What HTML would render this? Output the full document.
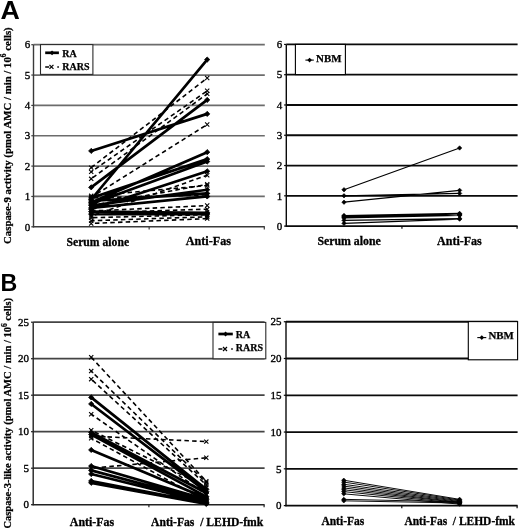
<!DOCTYPE html>
<html><head><meta charset="utf-8"><title>Caspase activity</title>
<style>
html,body{margin:0;padding:0;background:#fff;}
body{width:520px;height:529px;overflow:hidden;}
svg{display:block;filter:grayscale(1) blur(0.3px);}
.tk{font-family:"Liberation Serif",serif;font-size:11px;text-anchor:end;fill:#000;stroke:#000;stroke-width:0.35px;}
.xl{font-family:"Liberation Serif",serif;font-weight:bold;font-size:12px;fill:#000;stroke:#000;stroke-width:0.3px;}
.lg{font-family:"Liberation Serif",serif;font-weight:bold;fill:#000;stroke:#000;stroke-width:0.25px;}
.yl{font-family:"Liberation Serif",serif;font-weight:bold;fill:#000;stroke:#000;stroke-width:0.25px;}
.sup{font-size:7.5px;}
.pl{font-family:"Liberation Sans",sans-serif;font-weight:bold;font-size:25px;fill:#000;}
</style></head>
<body>
<svg width="520" height="529" viewBox="0 0 520 529">
<rect width="520" height="529" fill="#fff"/>
<line x1="33.5" y1="196.45" x2="264.8" y2="196.45" stroke="#6c6c6c" stroke-width="1.7"/>
<line x1="33.5" y1="166.1" x2="264.8" y2="166.1" stroke="#6c6c6c" stroke-width="1.7"/>
<line x1="33.5" y1="135.75" x2="264.8" y2="135.75" stroke="#6c6c6c" stroke-width="1.7"/>
<line x1="33.5" y1="105.4" x2="264.8" y2="105.4" stroke="#6c6c6c" stroke-width="1.7"/>
<line x1="33.5" y1="75.05" x2="264.8" y2="75.05" stroke="#6c6c6c" stroke-width="1.7"/>
<line x1="33.5" y1="44.7" x2="264.8" y2="44.7" stroke="#6c6c6c" stroke-width="1.7"/>
<line x1="33.5" y1="44.7" x2="33.5" y2="227.4" stroke="#3a3a3a" stroke-width="1.4"/>
<line x1="32.9" y1="226.8" x2="264.8" y2="226.8" stroke="#3a3a3a" stroke-width="1.6"/>
<line x1="31.3" y1="226.8" x2="33.5" y2="226.8" stroke="#3a3a3a" stroke-width="1.2"/>
<text x="30.2" y="230.5" class="tk">0</text>
<line x1="31.3" y1="196.45" x2="33.5" y2="196.45" stroke="#3a3a3a" stroke-width="1.2"/>
<text x="30.2" y="200.15" class="tk">1</text>
<line x1="31.3" y1="166.1" x2="33.5" y2="166.1" stroke="#3a3a3a" stroke-width="1.2"/>
<text x="30.2" y="169.8" class="tk">2</text>
<line x1="31.3" y1="135.75" x2="33.5" y2="135.75" stroke="#3a3a3a" stroke-width="1.2"/>
<text x="30.2" y="139.45" class="tk">3</text>
<line x1="31.3" y1="105.4" x2="33.5" y2="105.4" stroke="#3a3a3a" stroke-width="1.2"/>
<text x="30.2" y="109.1" class="tk">4</text>
<line x1="31.3" y1="75.05" x2="33.5" y2="75.05" stroke="#3a3a3a" stroke-width="1.2"/>
<text x="30.2" y="78.75" class="tk">5</text>
<line x1="31.3" y1="44.7" x2="33.5" y2="44.7" stroke="#3a3a3a" stroke-width="1.2"/>
<text x="30.2" y="48.4" class="tk">6</text>
<line x1="149.15" y1="226.8" x2="149.15" y2="229.4" stroke="#3a3a3a" stroke-width="1.2"/>
<line x1="264.3" y1="226.8" x2="264.3" y2="229.4" stroke="#3a3a3a" stroke-width="1.2"/>
<line x1="286.3" y1="195.82" x2="517.6" y2="195.82" stroke="#0a0a0a" stroke-width="1.8"/>
<line x1="286.3" y1="165.54" x2="517.6" y2="165.54" stroke="#0a0a0a" stroke-width="1.8"/>
<line x1="286.3" y1="135.26" x2="517.6" y2="135.26" stroke="#0a0a0a" stroke-width="1.8"/>
<line x1="286.3" y1="104.98" x2="517.6" y2="104.98" stroke="#0a0a0a" stroke-width="1.8"/>
<line x1="286.3" y1="74.7" x2="517.6" y2="74.7" stroke="#0a0a0a" stroke-width="1.8"/>
<line x1="286.3" y1="44.42" x2="517.6" y2="44.42" stroke="#0a0a0a" stroke-width="1.8"/>
<line x1="286.3" y1="44.42" x2="286.3" y2="226.7" stroke="#0a0a0a" stroke-width="1.4"/>
<line x1="285.7" y1="226.1" x2="517.6" y2="226.1" stroke="#0a0a0a" stroke-width="1.6"/>
<line x1="284.1" y1="226.1" x2="286.3" y2="226.1" stroke="#0a0a0a" stroke-width="1.2"/>
<text x="282.3" y="229.8" class="tk">0</text>
<line x1="284.1" y1="195.82" x2="286.3" y2="195.82" stroke="#0a0a0a" stroke-width="1.2"/>
<text x="282.3" y="199.52" class="tk">1</text>
<line x1="284.1" y1="165.54" x2="286.3" y2="165.54" stroke="#0a0a0a" stroke-width="1.2"/>
<text x="282.3" y="169.24" class="tk">2</text>
<line x1="284.1" y1="135.26" x2="286.3" y2="135.26" stroke="#0a0a0a" stroke-width="1.2"/>
<text x="282.3" y="138.96" class="tk">3</text>
<line x1="284.1" y1="104.98" x2="286.3" y2="104.98" stroke="#0a0a0a" stroke-width="1.2"/>
<text x="282.3" y="108.68" class="tk">4</text>
<line x1="284.1" y1="74.7" x2="286.3" y2="74.7" stroke="#0a0a0a" stroke-width="1.2"/>
<text x="282.3" y="78.4" class="tk">5</text>
<line x1="284.1" y1="44.42" x2="286.3" y2="44.42" stroke="#0a0a0a" stroke-width="1.2"/>
<text x="282.3" y="48.12" class="tk">6</text>
<line x1="401.95" y1="226.1" x2="401.95" y2="228.7" stroke="#0a0a0a" stroke-width="1.2"/>
<line x1="517.1" y1="226.1" x2="517.1" y2="228.7" stroke="#0a0a0a" stroke-width="1.2"/>
<line x1="33.2" y1="468.2" x2="264.6" y2="468.2" stroke="#444" stroke-width="1.7"/>
<line x1="33.2" y1="431.7" x2="264.6" y2="431.7" stroke="#444" stroke-width="1.7"/>
<line x1="33.2" y1="395.2" x2="264.6" y2="395.2" stroke="#444" stroke-width="1.7"/>
<line x1="33.2" y1="358.7" x2="264.6" y2="358.7" stroke="#444" stroke-width="1.7"/>
<line x1="33.2" y1="322.2" x2="264.6" y2="322.2" stroke="#444" stroke-width="1.7"/>
<line x1="33.2" y1="322.2" x2="33.2" y2="505.3" stroke="#222" stroke-width="1.4"/>
<line x1="32.6" y1="504.7" x2="264.6" y2="504.7" stroke="#222" stroke-width="1.6"/>
<line x1="31" y1="504.7" x2="33.2" y2="504.7" stroke="#222" stroke-width="1.2"/>
<text x="29" y="508.4" class="tk">0</text>
<line x1="31" y1="468.2" x2="33.2" y2="468.2" stroke="#222" stroke-width="1.2"/>
<text x="29" y="471.9" class="tk">5</text>
<line x1="31" y1="431.7" x2="33.2" y2="431.7" stroke="#222" stroke-width="1.2"/>
<text x="29" y="435.4" class="tk">10</text>
<line x1="31" y1="395.2" x2="33.2" y2="395.2" stroke="#222" stroke-width="1.2"/>
<text x="29" y="398.9" class="tk">15</text>
<line x1="31" y1="358.7" x2="33.2" y2="358.7" stroke="#222" stroke-width="1.2"/>
<text x="29" y="362.4" class="tk">20</text>
<line x1="31" y1="322.2" x2="33.2" y2="322.2" stroke="#222" stroke-width="1.2"/>
<text x="29" y="325.9" class="tk">25</text>
<line x1="148.9" y1="504.7" x2="148.9" y2="507.3" stroke="#222" stroke-width="1.2"/>
<line x1="264.1" y1="504.7" x2="264.1" y2="507.3" stroke="#222" stroke-width="1.2"/>
<line x1="286" y1="468.83" x2="517.6" y2="468.83" stroke="#0a0a0a" stroke-width="1.8"/>
<line x1="286" y1="432.05" x2="517.6" y2="432.05" stroke="#0a0a0a" stroke-width="1.8"/>
<line x1="286" y1="395.28" x2="517.6" y2="395.28" stroke="#0a0a0a" stroke-width="1.8"/>
<line x1="286" y1="358.5" x2="517.6" y2="358.5" stroke="#0a0a0a" stroke-width="1.8"/>
<line x1="286" y1="321.73" x2="517.6" y2="321.73" stroke="#0a0a0a" stroke-width="1.8"/>
<line x1="286" y1="321.73" x2="286" y2="506.2" stroke="#0a0a0a" stroke-width="1.4"/>
<line x1="285.4" y1="505.6" x2="517.6" y2="505.6" stroke="#0a0a0a" stroke-width="1.6"/>
<line x1="283.8" y1="505.6" x2="286" y2="505.6" stroke="#0a0a0a" stroke-width="1.2"/>
<text x="281.6" y="509.3" class="tk">0</text>
<line x1="283.8" y1="468.83" x2="286" y2="468.83" stroke="#0a0a0a" stroke-width="1.2"/>
<text x="281.6" y="472.53" class="tk">5</text>
<line x1="283.8" y1="432.05" x2="286" y2="432.05" stroke="#0a0a0a" stroke-width="1.2"/>
<text x="281.6" y="435.75" class="tk">10</text>
<line x1="283.8" y1="395.28" x2="286" y2="395.28" stroke="#0a0a0a" stroke-width="1.2"/>
<text x="281.6" y="398.98" class="tk">15</text>
<line x1="283.8" y1="358.5" x2="286" y2="358.5" stroke="#0a0a0a" stroke-width="1.2"/>
<text x="281.6" y="362.2" class="tk">20</text>
<line x1="283.8" y1="321.73" x2="286" y2="321.73" stroke="#0a0a0a" stroke-width="1.2"/>
<text x="281.6" y="325.43" class="tk">25</text>
<line x1="401.8" y1="505.6" x2="401.8" y2="508.2" stroke="#0a0a0a" stroke-width="1.2"/>
<line x1="517.1" y1="505.6" x2="517.1" y2="508.2" stroke="#0a0a0a" stroke-width="1.2"/>
<path d="M91.2 167.62L207.2 78.08" stroke="#000" stroke-width="1.6" stroke-dasharray="4.5 3.2" stroke-dashoffset="0" fill="none"/>
<path d="M91.2 171.87L207.2 90.83" stroke="#000" stroke-width="1.6" stroke-dasharray="4.5 3.2" stroke-dashoffset="2.9" fill="none"/>
<path d="M91.2 178.85L207.2 93.87" stroke="#000" stroke-width="1.6" stroke-dasharray="4.5 3.2" stroke-dashoffset="5.8" fill="none"/>
<path d="M91.2 197.36L207.2 124.52" stroke="#000" stroke-width="1.6" stroke-dasharray="4.5 3.2" stroke-dashoffset="1" fill="none"/>
<path d="M91.2 216.18L207.2 175.21" stroke="#000" stroke-width="1.6" stroke-dasharray="4.5 3.2" stroke-dashoffset="3.9" fill="none"/>
<path d="M91.2 205.56L207.2 184.31" stroke="#000" stroke-width="1.6" stroke-dasharray="4.5 3.2" stroke-dashoffset="6.8" fill="none"/>
<path d="M91.2 195.84L207.2 185.52" stroke="#000" stroke-width="1.6" stroke-dasharray="4.5 3.2" stroke-dashoffset="2" fill="none"/>
<path d="M91.2 197.97L207.2 194.93" stroke="#000" stroke-width="1.6" stroke-dasharray="4.5 3.2" stroke-dashoffset="4.9" fill="none"/>
<path d="M91.2 211.02L207.2 205.56" stroke="#000" stroke-width="1.6" stroke-dasharray="4.5 3.2" stroke-dashoffset="0.1" fill="none"/>
<path d="M91.2 212.84L207.2 209.2" stroke="#000" stroke-width="1.6" stroke-dasharray="4.5 3.2" stroke-dashoffset="3" fill="none"/>
<path d="M91.2 217.7L207.2 214.66" stroke="#000" stroke-width="1.6" stroke-dasharray="4.5 3.2" stroke-dashoffset="5.9" fill="none"/>
<path d="M91.2 220.73L207.2 216.78" stroke="#000" stroke-width="1.6" stroke-dasharray="4.5 3.2" stroke-dashoffset="1.1" fill="none"/>
<path d="M91.2 223.46L207.2 218.61" stroke="#000" stroke-width="1.6" stroke-dasharray="4.5 3.2" stroke-dashoffset="4" fill="none"/>
<g fill="none" stroke="#000" stroke-width="1.1"><path d="M89.1 165.52L93.3 169.72M89.1 169.72L93.3 165.52"/><path d="M205.1 75.98L209.3 80.18M205.1 80.18L209.3 75.98"/><path d="M89.1 169.77L93.3 173.97M89.1 173.97L93.3 169.77"/><path d="M205.1 88.73L209.3 92.93M205.1 92.93L209.3 88.73"/><path d="M89.1 176.75L93.3 180.95M89.1 180.95L93.3 176.75"/><path d="M205.1 91.77L209.3 95.97M205.1 95.97L209.3 91.77"/><path d="M89.1 195.26L93.3 199.46M89.1 199.46L93.3 195.26"/><path d="M205.1 122.42L209.3 126.62M205.1 126.62L209.3 122.42"/><path d="M89.1 214.08L93.3 218.28M89.1 218.28L93.3 214.08"/><path d="M205.1 173.11L209.3 177.31M205.1 177.31L209.3 173.11"/><path d="M89.1 203.46L93.3 207.66M89.1 207.66L93.3 203.46"/><path d="M205.1 182.21L209.3 186.41M205.1 186.41L209.3 182.21"/><path d="M89.1 193.74L93.3 197.94M89.1 197.94L93.3 193.74"/><path d="M205.1 183.42L209.3 187.62M205.1 187.62L209.3 183.42"/><path d="M89.1 195.87L93.3 200.07M89.1 200.07L93.3 195.87"/><path d="M205.1 192.83L209.3 197.03M205.1 197.03L209.3 192.83"/><path d="M89.1 208.92L93.3 213.12M89.1 213.12L93.3 208.92"/><path d="M205.1 203.46L209.3 207.66M205.1 207.66L209.3 203.46"/><path d="M89.1 210.74L93.3 214.94M89.1 214.94L93.3 210.74"/><path d="M205.1 207.1L209.3 211.3M205.1 211.3L209.3 207.1"/><path d="M89.1 215.6L93.3 219.8M89.1 219.8L93.3 215.6"/><path d="M205.1 212.56L209.3 216.76M205.1 216.76L209.3 212.56"/><path d="M89.1 218.63L93.3 222.83M89.1 222.83L93.3 218.63"/><path d="M205.1 214.68L209.3 218.88M205.1 218.88L209.3 214.68"/><path d="M89.1 221.36L93.3 225.56M89.1 225.56L93.3 221.36"/><path d="M205.1 216.51L209.3 220.71M205.1 220.71L209.3 216.51"/></g>
<path d="M91.2 150.93L207.2 113.9M91.2 199.49L207.2 59.57M91.2 187.34L207.2 99.94M91.2 202.52L207.2 152.14M91.2 197.97L207.2 159.12M91.2 204.04L207.2 161.55M91.2 209.2L207.2 171.26M91.2 205.56L207.2 189.77M91.2 201L207.2 193.42M91.2 207.98L207.2 196.45M91.2 211.62L207.2 212.84M91.2 214.05L207.2 214.05" stroke="#000" stroke-width="2.7" fill="none"/>
<g fill="#000" stroke="#000" stroke-width="0.8"><path d="M88.6 150.93L91.2 148.33L93.8 150.93L91.2 153.53Z"/><path d="M204.6 113.9L207.2 111.3L209.8 113.9L207.2 116.5Z"/><path d="M88.6 199.49L91.2 196.89L93.8 199.49L91.2 202.09Z"/><path d="M204.6 59.57L207.2 56.97L209.8 59.57L207.2 62.17Z"/><path d="M88.6 187.34L91.2 184.75L93.8 187.34L91.2 189.94Z"/><path d="M204.6 99.94L207.2 97.34L209.8 99.94L207.2 102.54Z"/><path d="M88.6 202.52L91.2 199.92L93.8 202.52L91.2 205.12Z"/><path d="M204.6 152.14L207.2 149.54L209.8 152.14L207.2 154.74Z"/><path d="M88.6 197.97L91.2 195.37L93.8 197.97L91.2 200.57Z"/><path d="M204.6 159.12L207.2 156.52L209.8 159.12L207.2 161.72Z"/><path d="M88.6 204.04L91.2 201.44L93.8 204.04L91.2 206.64Z"/><path d="M204.6 161.55L207.2 158.95L209.8 161.55L207.2 164.15Z"/><path d="M88.6 209.2L91.2 206.6L93.8 209.2L91.2 211.8Z"/><path d="M204.6 171.26L207.2 168.66L209.8 171.26L207.2 173.86Z"/><path d="M88.6 205.56L91.2 202.96L93.8 205.56L91.2 208.16Z"/><path d="M204.6 189.77L207.2 187.17L209.8 189.77L207.2 192.37Z"/><path d="M88.6 201L91.2 198.4L93.8 201L91.2 203.6Z"/><path d="M204.6 193.42L207.2 190.82L209.8 193.42L207.2 196.02Z"/><path d="M88.6 207.98L91.2 205.38L93.8 207.98L91.2 210.58Z"/><path d="M204.6 196.45L207.2 193.85L209.8 196.45L207.2 199.05Z"/><path d="M88.6 211.62L91.2 209.03L93.8 211.62L91.2 214.22Z"/><path d="M204.6 212.84L207.2 210.24L209.8 212.84L207.2 215.44Z"/><path d="M88.6 214.05L91.2 211.45L93.8 214.05L91.2 216.65Z"/><path d="M204.6 214.05L207.2 211.45L209.8 214.05L207.2 216.65Z"/></g>
<path d="M344 189.76L459.6 147.98M344 195.82L459.6 193.4M344 202.18L459.6 190.37M344 215.5L459.6 213.38M344 216.11L459.6 213.99M344 216.71L459.6 214.44M344 217.32L459.6 214.9M344 217.92L459.6 215.5M344 220.35L459.6 218.53M344 223.37L459.6 219.14" stroke="#000" stroke-width="1.2" fill="none"/>
<g fill="#000" stroke="#000" stroke-width="0.6"><path d="M341.8 189.76L344 187.56L346.2 189.76L344 191.96Z"/><path d="M457.4 147.98L459.6 145.78L461.8 147.98L459.6 150.18Z"/><path d="M341.8 195.82L344 193.62L346.2 195.82L344 198.02Z"/><path d="M457.4 193.4L459.6 191.2L461.8 193.4L459.6 195.6Z"/><path d="M341.8 202.18L344 199.98L346.2 202.18L344 204.38Z"/><path d="M457.4 190.37L459.6 188.17L461.8 190.37L459.6 192.57Z"/><path d="M341.8 215.5L344 213.3L346.2 215.5L344 217.7Z"/><path d="M457.4 213.38L459.6 211.18L461.8 213.38L459.6 215.58Z"/><path d="M341.8 216.11L344 213.91L346.2 216.11L344 218.31Z"/><path d="M457.4 213.99L459.6 211.79L461.8 213.99L459.6 216.19Z"/><path d="M341.8 216.71L344 214.51L346.2 216.71L344 218.91Z"/><path d="M457.4 214.44L459.6 212.24L461.8 214.44L459.6 216.64Z"/><path d="M341.8 217.32L344 215.12L346.2 217.32L344 219.52Z"/><path d="M457.4 214.9L459.6 212.7L461.8 214.9L459.6 217.1Z"/><path d="M341.8 217.92L344 215.72L346.2 217.92L344 220.12Z"/><path d="M457.4 215.5L459.6 213.3L461.8 215.5L459.6 217.7Z"/><path d="M341.8 220.35L344 218.15L346.2 220.35L344 222.55Z"/><path d="M457.4 218.53L459.6 216.33L461.8 218.53L459.6 220.73Z"/><path d="M341.8 223.37L344 221.17L346.2 223.37L344 225.57Z"/><path d="M457.4 219.14L459.6 216.94L461.8 219.14L459.6 221.34Z"/></g>
<path d="M91.2 357.24L206.3 481.34" stroke="#000" stroke-width="1.6" stroke-dasharray="4.5 3.2" stroke-dashoffset="0" fill="none"/>
<path d="M91.2 371.11L206.3 482.8" stroke="#000" stroke-width="1.6" stroke-dasharray="4.5 3.2" stroke-dashoffset="2.9" fill="none"/>
<path d="M91.2 379.14L206.3 484.99" stroke="#000" stroke-width="1.6" stroke-dasharray="4.5 3.2" stroke-dashoffset="5.8" fill="none"/>
<path d="M91.2 414.18L206.3 494.48" stroke="#000" stroke-width="1.6" stroke-dasharray="4.5 3.2" stroke-dashoffset="1" fill="none"/>
<path d="M91.2 430.24L206.3 487.18" stroke="#000" stroke-width="1.6" stroke-dasharray="4.5 3.2" stroke-dashoffset="3.9" fill="none"/>
<path d="M91.2 436.08L206.3 441.63" stroke="#000" stroke-width="1.6" stroke-dasharray="4.5 3.2" stroke-dashoffset="6.8" fill="none"/>
<path d="M91.2 438.27L206.3 501.05" stroke="#000" stroke-width="1.6" stroke-dasharray="4.5 3.2" stroke-dashoffset="2" fill="none"/>
<path d="M91.2 468.2L206.3 457.83" stroke="#000" stroke-width="1.6" stroke-dasharray="4.5 3.2" stroke-dashoffset="4.9" fill="none"/>
<g fill="none" stroke="#000" stroke-width="1.1"><path d="M89.1 355.14L93.3 359.34M89.1 359.34L93.3 355.14"/><path d="M204.2 479.24L208.4 483.44M204.2 483.44L208.4 479.24"/><path d="M89.1 369.01L93.3 373.21M89.1 373.21L93.3 369.01"/><path d="M204.2 480.7L208.4 484.9M204.2 484.9L208.4 480.7"/><path d="M89.1 377.04L93.3 381.24M89.1 381.24L93.3 377.04"/><path d="M204.2 482.89L208.4 487.09M204.2 487.09L208.4 482.89"/><path d="M89.1 412.08L93.3 416.28M89.1 416.28L93.3 412.08"/><path d="M204.2 492.38L208.4 496.58M204.2 496.58L208.4 492.38"/><path d="M89.1 428.14L93.3 432.34M89.1 432.34L93.3 428.14"/><path d="M204.2 485.08L208.4 489.28M204.2 489.28L208.4 485.08"/><path d="M89.1 433.98L93.3 438.18M89.1 438.18L93.3 433.98"/><path d="M204.2 439.53L208.4 443.73M204.2 443.73L208.4 439.53"/><path d="M89.1 436.17L93.3 440.37M89.1 440.37L93.3 436.17"/><path d="M204.2 498.95L208.4 503.15M204.2 503.15L208.4 498.95"/><path d="M89.1 466.1L93.3 470.3M89.1 470.3L93.3 466.1"/><path d="M204.2 455.73L208.4 459.93M204.2 459.93L208.4 455.73"/></g>
<path d="M91.2 397.39L206.3 489.37M91.2 403.96L206.3 491.56M91.2 432.43L206.3 493.02M91.2 434.62L206.3 496.67M91.2 449.95L206.3 498.13M91.2 466.01L206.3 499.59M91.2 470.39L206.3 501.05M91.2 474.04L206.3 502.51M91.2 480.97L206.3 503.24M91.2 482.8L206.3 503.97" stroke="#000" stroke-width="2.7" fill="none"/>
<g fill="#000" stroke="#000" stroke-width="0.8"><path d="M88.6 397.39L91.2 394.79L93.8 397.39L91.2 399.99Z"/><path d="M203.7 489.37L206.3 486.77L208.9 489.37L206.3 491.97Z"/><path d="M88.6 403.96L91.2 401.36L93.8 403.96L91.2 406.56Z"/><path d="M203.7 491.56L206.3 488.96L208.9 491.56L206.3 494.16Z"/><path d="M88.6 432.43L91.2 429.83L93.8 432.43L91.2 435.03Z"/><path d="M203.7 493.02L206.3 490.42L208.9 493.02L206.3 495.62Z"/><path d="M88.6 434.62L91.2 432.02L93.8 434.62L91.2 437.22Z"/><path d="M203.7 496.67L206.3 494.07L208.9 496.67L206.3 499.27Z"/><path d="M88.6 449.95L91.2 447.35L93.8 449.95L91.2 452.55Z"/><path d="M203.7 498.13L206.3 495.53L208.9 498.13L206.3 500.73Z"/><path d="M88.6 466.01L91.2 463.41L93.8 466.01L91.2 468.61Z"/><path d="M203.7 499.59L206.3 496.99L208.9 499.59L206.3 502.19Z"/><path d="M88.6 470.39L91.2 467.79L93.8 470.39L91.2 472.99Z"/><path d="M203.7 501.05L206.3 498.45L208.9 501.05L206.3 503.65Z"/><path d="M88.6 474.04L91.2 471.44L93.8 474.04L91.2 476.64Z"/><path d="M203.7 502.51L206.3 499.91L208.9 502.51L206.3 505.11Z"/><path d="M88.6 480.97L91.2 478.37L93.8 480.97L91.2 483.57Z"/><path d="M203.7 503.24L206.3 500.64L208.9 503.24L206.3 505.84Z"/><path d="M88.6 482.8L91.2 480.2L93.8 482.8L91.2 485.4Z"/><path d="M203.7 503.97L206.3 501.37L208.9 503.97L206.3 506.57Z"/></g>
<path d="M343.8 480.23L459.6 499.35M343.8 482.06L459.6 500.08M343.8 484.27L459.6 500.82M343.8 486.11L459.6 501.55M343.8 487.95L459.6 502.29M343.8 489.79L459.6 502.66M343.8 491.63L459.6 503.39M343.8 493.83L459.6 504.13M343.8 499.35L459.6 501.92M343.8 500.82L459.6 503.03" stroke="#000" stroke-width="0.95" fill="none"/>
<g fill="#000" stroke="#000" stroke-width="0.6"><path d="M341.6 480.23L343.8 478.03L346 480.23L343.8 482.43Z"/><path d="M457.4 499.35L459.6 497.15L461.8 499.35L459.6 501.55Z"/><path d="M341.6 482.06L343.8 479.86L346 482.06L343.8 484.26Z"/><path d="M457.4 500.08L459.6 497.88L461.8 500.08L459.6 502.28Z"/><path d="M341.6 484.27L343.8 482.07L346 484.27L343.8 486.47Z"/><path d="M457.4 500.82L459.6 498.62L461.8 500.82L459.6 503.02Z"/><path d="M341.6 486.11L343.8 483.91L346 486.11L343.8 488.31Z"/><path d="M457.4 501.55L459.6 499.35L461.8 501.55L459.6 503.75Z"/><path d="M341.6 487.95L343.8 485.75L346 487.95L343.8 490.15Z"/><path d="M457.4 502.29L459.6 500.09L461.8 502.29L459.6 504.49Z"/><path d="M341.6 489.79L343.8 487.59L346 489.79L343.8 491.99Z"/><path d="M457.4 502.66L459.6 500.46L461.8 502.66L459.6 504.86Z"/><path d="M341.6 491.63L343.8 489.43L346 491.63L343.8 493.83Z"/><path d="M457.4 503.39L459.6 501.19L461.8 503.39L459.6 505.59Z"/><path d="M341.6 493.83L343.8 491.63L346 493.83L343.8 496.03Z"/><path d="M457.4 504.13L459.6 501.93L461.8 504.13L459.6 506.33Z"/><path d="M341.6 499.35L343.8 497.15L346 499.35L343.8 501.55Z"/><path d="M457.4 501.92L459.6 499.72L461.8 501.92L459.6 504.12Z"/><path d="M341.6 500.82L343.8 498.62L346 500.82L343.8 503.02Z"/><path d="M457.4 503.03L459.6 500.83L461.8 503.03L459.6 505.23Z"/></g>
<rect x="40.5" y="44.6" width="52.4" height="29.8" fill="#fff" stroke="#2a2a2a" stroke-width="1.1"/>
<line x1="45.2" y1="52.8" x2="58.9" y2="52.8" stroke="#000" stroke-width="2.7"/>
<g fill="#000"><path d="M49.65 52.8L52.05 50.4L54.45 52.8L52.05 55.2Z"/></g>
<path d="M45.2 66.9h4M57.3 66.9H58.9" stroke="#000" stroke-width="1.5" fill="none"/>
<g stroke="#000" stroke-width="1.2" fill="none"><path d="M49.45 64.9L53.45 68.9M49.45 68.9L53.45 64.9"/></g>
<text x="62.3" y="56.9" class="lg" style="font-size:10px">RA</text>
<text x="62.3" y="70.1" class="lg" style="font-size:10px">RARS</text>
<rect x="295.4" y="44.4" width="50" height="30.2" fill="#fff" stroke="#000" stroke-width="1.1"/>
<line x1="305.4" y1="60.1" x2="313.8" y2="60.1" stroke="#000" stroke-width="1.1"/>
<g fill="#000"><path d="M307.3 60.1L309.6 57.8L311.9 60.1L309.6 62.4Z"/></g>
<text x="316.1" y="61.6" class="lg" style="font-size:10.9px">NBM</text>
<rect x="213" y="322.4" width="52.8" height="36.4" fill="#fff" stroke="#2a2a2a" stroke-width="1.1"/>
<line x1="218.4" y1="334" x2="232.8" y2="334" stroke="#000" stroke-width="2.7"/>
<g fill="#000"><path d="M223.2 334L225.6 331.6L228 334L225.6 336.4Z"/></g>
<path d="M218.4 349h4M231.2 349H232.8" stroke="#000" stroke-width="1.5" fill="none"/>
<g stroke="#000" stroke-width="1.2" fill="none"><path d="M223 347L227 351M223 351L227 347"/></g>
<text x="235.8" y="337.9" class="lg" style="font-size:10px">RA</text>
<text x="235.8" y="350.9" class="lg" style="font-size:10px">RARS</text>
<rect x="468.3" y="321.6" width="49.3" height="38.2" fill="#fff" stroke="#000" stroke-width="1.1"/>
<line x1="477.3" y1="337.6" x2="486.3" y2="337.6" stroke="#000" stroke-width="1.1"/>
<g fill="#000"><path d="M479.5 337.6L481.8 335.3L484.1 337.6L481.8 339.9Z"/></g>
<text x="488.4" y="339.1" class="lg" style="font-size:10.9px">NBM</text>
<text x="66.5" y="245.6" class="xl" textLength="62.6" lengthAdjust="spacingAndGlyphs">Serum alone</text>
<text x="185.8" y="245.4" class="xl" textLength="45.2" lengthAdjust="spacingAndGlyphs">Anti-Fas</text>
<text x="317.4" y="244.9" class="xl" textLength="63.4" lengthAdjust="spacingAndGlyphs">Serum alone</text>
<text x="437" y="244.7" class="xl" textLength="44.8" lengthAdjust="spacingAndGlyphs">Anti-Fas</text>
<text x="69.8" y="525.9" class="xl" textLength="44.3" lengthAdjust="spacingAndGlyphs">Anti-Fas</text>
<text x="151" y="525.9" class="xl" textLength="112.3" lengthAdjust="spacingAndGlyphs">Anti-Fas&#160; / LEHD-fmk</text>
<text x="321.4" y="525.2" class="xl" textLength="42.9" lengthAdjust="spacingAndGlyphs">Anti-Fas</text>
<text x="404.4" y="525.2" class="xl" textLength="110.6" lengthAdjust="spacingAndGlyphs">Anti-Fas&#160; / LEHD-fmk</text>
<text class="yl" transform="translate(10.9,244) rotate(-90)" style="font-size:10.8px">Caspase-9 activity (pmol AMC / min / 10<tspan class="sup" dy="-4.6">6</tspan><tspan dy="4.6"> cells)</tspan></text>
<text class="yl" transform="translate(11.0,528.6) rotate(-90)" style="font-size:10.5px">Caspase-3-like activity (pmol AMC / min / 10<tspan class="sup" dy="-4.5">6</tspan><tspan dy="4.5"> cells)</tspan></text>
<text x="0" y="0" class="pl" transform="translate(0.45,18.75) scale(1.055,1)" style="font-size:25.4px">A</text>
<text x="0" y="0" class="pl" transform="translate(0.4,291.3) scale(0.985,1)" style="font-size:23.6px">B</text>
</svg>
</body></html>
